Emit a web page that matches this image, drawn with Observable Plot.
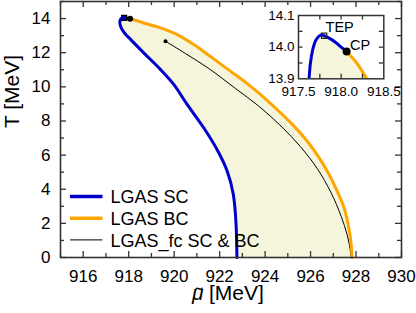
<!DOCTYPE html>
<html><head><meta charset="utf-8">
<script src="https://cdn.jsdelivr.net/npm/d3@7"></script>
<script src="https://cdn.jsdelivr.net/npm/@observablehq/plot@0.6"></script>
<style>
body{margin:0;background:#fff;}
#wrap{position:relative;width:416px;height:313px;font-family:"Liberation Sans",Arial,Helvetica,sans-serif;}
#wrap svg{position:absolute;left:0;top:0;}
</style></head><body><div id="wrap"></div>
<script>
// LGAS SC (spinodal curve), from CP around TEP and down to T=0
const scMu = [918.064, 918.0, 917.94, 917.87, 917.80, 917.76, 917.70, 917.665, 917.64, 917.625, 917.613, 917.61, 917.625, 917.66, 917.71, 917.85, 918.08, 918.66, 919.40, 919.98, 920.57, 921.30, 921.92, 922.33, 922.60, 922.72, 922.76];
const scT  = [13.986, 14.0, 14.014, 14.027, 14.036, 14.038, 14.02, 13.99, 13.95, 13.905, 13.85, 13.78, 13.65, 13.5, 13.36, 13.1, 12.78, 11.99, 11.01, 10.14, 8.97, 7.60, 6.24, 5.07, 3.71, 2.0, 0];
// LGAS BC (binodal curve), from CP down to T=0
const bcMu = [918.064, 918.19, 918.30, 918.66, 919.40, 920.13, 920.86, 921.52, 922.47, 923.2, 923.79, 924.5, 925.2, 925.8, 926.3, 926.8, 927.2, 927.5, 927.7, 927.8, 927.82];
const bcT  = [13.986, 13.947, 13.9, 13.74, 13.45, 13.06, 12.48, 11.85, 10.92, 10.2, 9.56, 8.7, 7.8, 6.9, 6.0, 4.9, 3.8, 2.8, 1.6, 0.6, 0];
// LGAS_fc SC & BC
const fcMu = [919.62, 920.5, 921.55, 922.7, 923.72, 924.7, 925.55, 926.3, 926.9, 927.35, 927.6, 927.74, 927.78];
const fcT  = [12.67, 11.95, 11.05, 9.9, 8.87, 7.7, 6.5, 5.2, 3.8, 2.4, 1.37, 0.5, 0];
// special points
const ptNames = ["TEP", "CP"];
const ptMu = [917.80, 918.064];
const ptT = [14.036, 13.986];
// ticks
const xTicksMain = [916, 918, 920, 922, 924, 926, 928, 930];
const xMinorMain = [915, 917, 919, 921, 923, 925, 927, 929];
const yTicksMain = [0, 2, 4, 6, 8, 10, 12, 14];
const yMinorMain = [1, 3, 5, 7, 9, 11, 13, 15];
const xTicksInset = [917.5, 918.0, 918.5];
const xAllInset = [917.75, 918.0, 918.25];
const yTicksInset = [13.9, 14.0, 14.1];
const yAllInset = [13.95, 14.0, 14.05];
const legendLabels = ["LGAS SC", "LGAS BC", "LGAS_fc SC & BC"];
const colors = {sc: "#0000cc", bc: "#ffa500", fc: "#000000", fill: "#f5f5dc", frame: "#333333"};

const sc = scMu.map((m, i) => ({mu: m, T: scT[i]}));
const bc = bcMu.map((m, i) => ({mu: m, T: bcT[i]}));
const fc = fcMu.map((m, i) => ({mu: m, T: fcT[i]}));
const pts = ptNames.map((n, i) => ({name: n, mu: ptMu[i], T: ptT[i]}));
const poly = sc.slice().reverse().concat(bc.slice(1));
const FONT = '"Liberation Sans", Arial, Helvetica, sans-serif';

function tickMarks(xv, yv, fw, fh, len, col) {
  const o = {stroke: col, strokeWidth: 1.3};
  const m = [];
  if (xv) {
    m.push(Plot.tickX(xv, {x: d => d, insetTop: fh - len, ...o}));
    m.push(Plot.tickX(xv, {x: d => d, insetBottom: fh - len, ...o}));
  }
  if (yv) {
    m.push(Plot.tickY(yv, {y: d => d, insetRight: fw - len, ...o}));
    m.push(Plot.tickY(yv, {y: d => d, insetLeft: fw - len, ...o}));
  }
  return m;
}

// main plot
const W = 416, H = 313, mL = 60, mR = 15, mT = 1, mB = 56;
const fw = W - mL - mR, fh = H - mT - mB;
const main = Plot.plot({
  width: W, height: H, marginLeft: mL, marginRight: mR, marginTop: mT, marginBottom: mB,
  style: {fontFamily: FONT, color: "black", background: "white"},
  x: {domain: [915, 930]},
  y: {domain: [0, 15]},
  marks: [
    Plot.line(poly, {x: "mu", y: "T", fill: colors.fill, stroke: "none", curve: "catmull-rom"}),
    Plot.line(fc, {x: "mu", y: "T", stroke: colors.fc, strokeWidth: 1, curve: "catmull-rom"}),
    Plot.line(sc, {x: "mu", y: "T", stroke: colors.sc, strokeWidth: 3, curve: "catmull-rom"}),
    Plot.line(bc, {x: "mu", y: "T", stroke: colors.bc, strokeWidth: 3, curve: "catmull-rom"}),
    Plot.dot(fc.slice(0, 1), {x: "mu", y: "T", r: 2, fill: "black", stroke: "none"}),
    Plot.dot(pts.slice(0, 1), {x: "mu", y: "T", symbol: "square", r: 2.8, fill: colors.sc, stroke: "black", strokeWidth: 1.2}),
    Plot.dot(pts.slice(1), {x: "mu", y: "T", r: 3, fill: "black", stroke: "none"}),
    ...tickMarks(xTicksMain, yTicksMain, fw, fh, 6, colors.frame),
    ...tickMarks(xMinorMain, yMinorMain, fw, fh, 4, colors.frame),
    Plot.frame({stroke: colors.frame, strokeWidth: 1.6}),
    Plot.axisX(xTicksMain, {anchor: "bottom", tickSize: 0, tickPadding: 12, fontSize: 17, tickFormat: d => String(d), label: null}),
    Plot.axisY(yTicksMain, {anchor: "left", tickSize: 0, tickPadding: 10, fontSize: 17, tickFormat: d => String(d), label: null}),
    Plot.text(["T [MeV]"], {text: d => d, frameAnchor: "left", rotate: -90, dx: -41.5, dy: -1.5, lineAnchor: "bottom", fontSize: 21, fill: "black"}),
    Plot.text(["\u03BC"], {text: d => d, frameAnchor: "bottom", dx: -39, dy: 42, textAnchor: "start", lineAnchor: "bottom", fontSize: 21, fontStyle: "italic", fill: "black"}),
    Plot.text(["\u02DC"], {text: d => d, frameAnchor: "bottom", dx: -32, dy: 44.5, textAnchor: "middle", lineAnchor: "bottom", fontSize: 21, fill: "black"}),
    Plot.text(["[MeV]"], {text: d => d, frameAnchor: "bottom", dx: -22, dy: 42, textAnchor: "start", lineAnchor: "bottom", fontSize: 21, fill: "black"})
  ]
});

// inset
const iW = 165, iH = 100, iL = 48, iR = 31.7, iT = 15, iB = 21.7;
const ifw = iW - iL - iR, ifh = iH - iT - iB;
const inset = Plot.plot({
  width: iW, height: iH, marginLeft: iL, marginRight: iR, marginTop: iT, marginBottom: iB,
  style: {fontFamily: FONT, color: "black", background: "none"},
  x: {domain: [917.5, 918.5]},
  y: {domain: [13.9, 14.1]},
  marks: [
    Plot.frame({fill: "white", stroke: "none"}),
    Plot.line(poly, {x: "mu", y: "T", fill: colors.fill, stroke: "none", curve: "catmull-rom", clip: true}),
    Plot.line(sc, {x: "mu", y: "T", stroke: colors.sc, strokeWidth: 3, curve: "catmull-rom", clip: true}),
    Plot.line(bc, {x: "mu", y: "T", stroke: colors.bc, strokeWidth: 3, curve: "catmull-rom", clip: true}),
    ...tickMarks(xAllInset, yAllInset, ifw, ifh, 4.5, colors.frame),
    Plot.frame({stroke: colors.frame, strokeWidth: 1.5}),
    Plot.dot(pts.slice(0, 1), {x: "mu", y: "T", symbol: "square", r: 3, fill: "none", stroke: "#222", strokeWidth: 1.2}),
    Plot.dot(pts.slice(1), {x: "mu", y: "T", r: 4, fill: "black", stroke: "none"}),
    Plot.text(pts.slice(0, 1), {x: "mu", y: "T", text: "name", dx: 1.5, dy: -3.5, textAnchor: "start", lineAnchor: "bottom", fontSize: 14.5, fill: "black"}),
    Plot.text(pts.slice(1), {x: "mu", y: "T", text: "name", dx: 3.5, dy: -2, textAnchor: "start", lineAnchor: "bottom", fontSize: 14.5, fill: "black"}),
    Plot.axisX(xTicksInset, {anchor: "bottom", tickSize: 0, tickPadding: 8, fontSize: 13.5, tickFormat: d3.format(".1f"), label: null}),
    Plot.axisY(yTicksInset, {anchor: "left", tickSize: 0, tickPadding: 4, fontSize: 13.5, tickFormat: d3.format(".1f"), label: null})
  ]
});

const wrap = document.getElementById("wrap");
wrap.appendChild(main);
inset.style.left = "250px"; inset.style.top = "0px";
wrap.appendChild(inset);

// legend
const ns = "http://www.w3.org/2000/svg";
const leg = document.createElementNS(ns, "svg");
leg.setAttribute("width", 416); leg.setAttribute("height", 313);
leg.style.background = "none";
const legColors = [colors.sc, colors.bc, colors.fc];
const legWidths = [3.5, 3.5, 1];
legendLabels.forEach((lab, i) => {
  const y = 196.5 + i * 21.7;
  const ln = document.createElementNS(ns, "line");
  ln.setAttribute("x1", 70); ln.setAttribute("x2", 102.5);
  ln.setAttribute("y1", y); ln.setAttribute("y2", y);
  ln.setAttribute("stroke", legColors[i]); ln.setAttribute("stroke-width", legWidths[i]);
  leg.appendChild(ln);
  const t = document.createElementNS(ns, "text");
  t.setAttribute("x", 110.5); t.setAttribute("y", y + 6.6);
  t.setAttribute("font-size", 18); t.setAttribute("font-family", FONT);
  t.textContent = lab;
  leg.appendChild(t);
});
wrap.appendChild(leg);
</script></body></html>
